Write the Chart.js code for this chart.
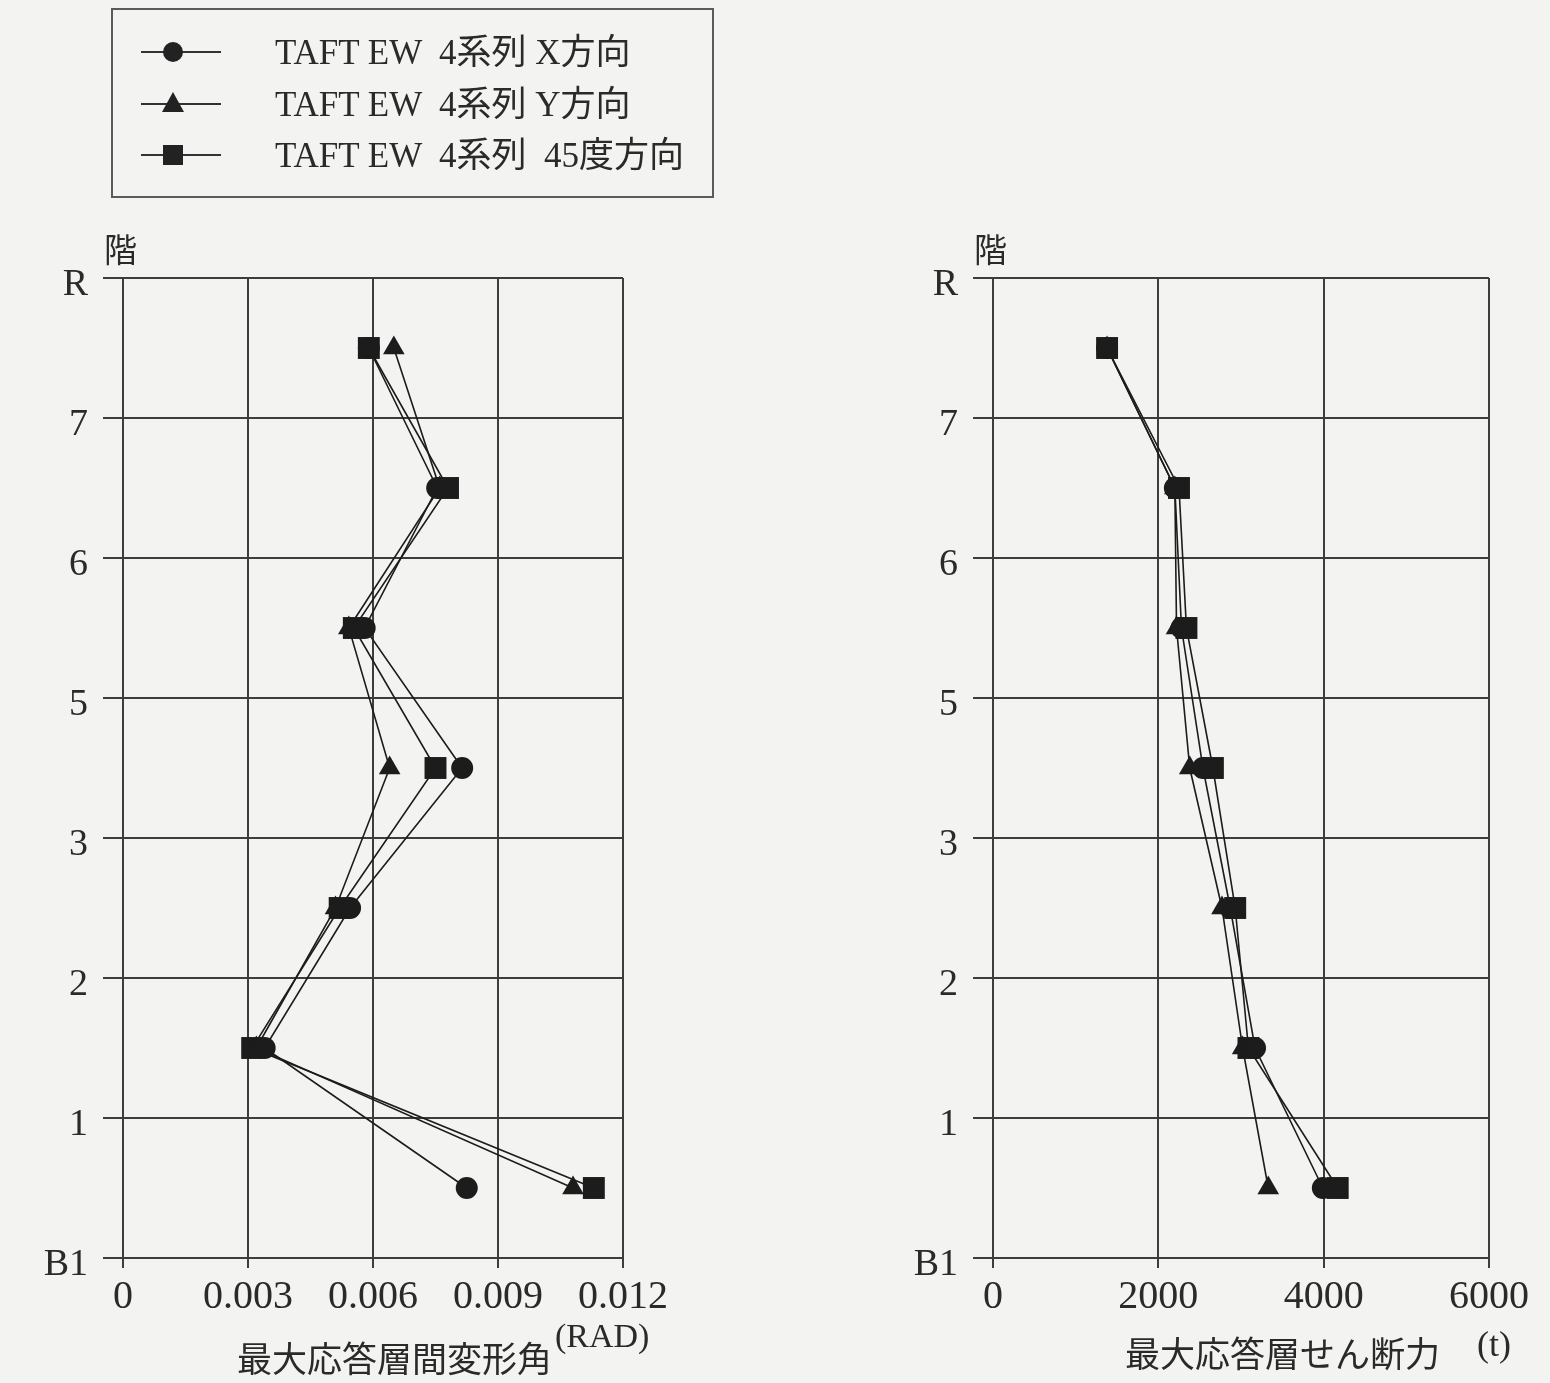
<!DOCTYPE html>
<html>
<head>
<meta charset="utf-8">
<script src="https://cdn.jsdelivr.net/npm/chart.js@4.4.1/dist/chart.umd.min.js"></script>
<style>
  html, body { margin: 0; padding: 0; background: #f3f3f1; }
  body { width: 1550px; height: 1383px; position: relative; overflow: hidden;
         font-family: 'Liberation Serif', 'Noto Sans CJK JP', serif; color: #2a2a2a; }
  canvas { position: absolute; top: 0; }
  #driftChart { left: 0; }
  #shearChart { left: 770px; }
  .lbl { position: absolute; white-space: nowrap; line-height: 1; }
  .legend { position: absolute; left: 111px; top: 8px; width: 599px; height: 186px;
            border: 2px solid #5a5a5a; }
  .row { position: absolute; left: 0; width: 100%; height: 0; }
  .row .line { position: absolute; left: 28px; top: -1px; width: 80px; height: 2px; background: #333; }
  .row .mk { position: absolute; background: #222; }
  .row .mk.circle { left: 50px; top: -10px; width: 20px; height: 20px; border-radius: 50%; }
  .row .mk.rect { left: 50px; top: -10px; width: 20px; height: 20px; }
  .row .mk.tri { left: 49px; top: -12px; width: 0; height: 0; background: none;
                 border-left: 11px solid transparent; border-right: 11px solid transparent;
                 border-bottom: 20px solid #222; }
  .row .txt { position: absolute; left: 162px; top: -17px; font-size: 35px; line-height: 1; white-space: pre; }
</style>
</head>
<body>
<canvas id="driftChart" width="760" height="1383"></canvas>
<canvas id="shearChart" width="780" height="1383"></canvas>

<div class="legend" id="legend"></div>

<div class="lbl" style="left:104px;top:232px;font-size:33px;font-family:'Noto Sans CJK JP';">階</div>
<div class="lbl" style="left:974px;top:232px;font-size:33px;font-family:'Noto Sans CJK JP';">階</div>
<div class="lbl" style="left:237px;top:1339px;font-size:35px;font-family:'Noto Sans CJK JP';">最大応答層間変形角</div>
<div class="lbl" style="left:555px;top:1319px;font-size:34px;">(RAD)</div>
<div class="lbl" style="left:1125px;top:1334px;font-size:35px;font-family:'Noto Sans CJK JP';">最大応答層せん断力</div>
<div class="lbl" style="left:1477px;top:1326px;font-size:36px;">(t)</div>

<script>
// Floor levels on the vertical axis (no floor "4"), bottom to top
const floorLabels = ['B1', '1', '2', '3', '5', '6', '7', 'R'];
// Each story is named by the floor at its base, bottom to top
const storyNames = ['B1', '1', '2', '3', '5', '6', '7'];

const seriesNames = ['TAFT EW  4系列 X方向', 'TAFT EW  4系列 Y方向', 'TAFT EW  4系列  45度方向'];
const seriesMarkers = ['circle', 'triangle', 'rect'];

// Maximum story drift angle (RAD)
const driftX   = [0.00825, 0.0034, 0.00545, 0.00814, 0.0058,  0.00754, 0.0059];
const driftY   = [0.0108,  0.0032, 0.0051,  0.0064,  0.00542, 0.0076,  0.0065];
const drift45  = [0.0113,  0.0031, 0.0052,  0.0075,  0.00554, 0.0078,  0.0059];

// Maximum story shear force (t)
const shearX   = [3990, 3170, 2870, 2540, 2280, 2200, 1380];
const shearY   = [3330, 3020, 2770, 2380, 2220, 2200, 1380];
const shear45  = [4170, 3090, 2930, 2660, 2340, 2250, 1380];

const driftTicks = [0, 0.003, 0.006, 0.009, 0.012];
const driftTickLabels = ['0', '0.003', '0.006', '0.009', '0.012'];
const shearTicks = [0, 2000, 4000, 6000];
const shearTickLabels = ['0', '2000', '4000', '6000'];

const INK = '#1c1c1c';
const GRID = '#3d3d3d';
const SERIF = "'Liberation Serif', 'Noto Sans CJK JP', serif";
const markerRadius = { circle: 11, triangle: 12.5, rect: 15.5 };

function storyPoints(values) {
  return storyNames.map((s, i) => ({ x: values[i], y: floorLabels.indexOf(s) + 0.5 }));
}

function makeDatasets(seriesValues) {
  return seriesValues.map((vals, k) => ({
    label: seriesNames[k],
    data: storyPoints(vals),
    showLine: true,
    borderColor: INK,
    borderWidth: 1.6,
    backgroundColor: INK,
    pointStyle: seriesMarkers[k],
    pointRadius: markerRadius[seriesMarkers[k]],
    pointBorderWidth: 0,
    pointBackgroundColor: INK,
    tension: 0
  }));
}

function makeChart(canvasId, seriesValues, xTicks, xTickLabels, padLeft, padRight) {
  const ctx = document.getElementById(canvasId);
  return new Chart(ctx, {
    type: 'scatter',
    data: { datasets: makeDatasets(seriesValues) },
    options: {
      responsive: false,
      animation: false,
      devicePixelRatio: 1,
      layout: { padding: { top: 278, left: padLeft, right: padRight, bottom: 0 } },
      plugins: { legend: { display: false }, tooltip: { enabled: false } },
      scales: {
        x: {
          type: 'linear',
          min: xTicks[0],
          max: xTicks[xTicks.length - 1],
          afterBuildTicks: s => { s.ticks = xTicks.map(v => ({ value: v })); },
          afterFit: s => { s.height = 125; },
          ticks: {
            callback: (v, i) => xTickLabels[i],
            font: { family: SERIF, size: 40 },
            color: '#2a2a2a',
            padding: 5,
            maxRotation: 0,
            autoSkip: false
          },
          grid: { color: GRID, lineWidth: 2, tickLength: 10, drawTicks: true },
          border: { color: GRID, width: 2 }
        },
        y: {
          type: 'linear',
          min: 0,
          max: floorLabels.length - 1,
          afterBuildTicks: s => { s.ticks = floorLabels.map((_, i) => ({ value: i })); },
          afterFit: s => { s.width = 123; },
          ticks: {
            callback: (v, i) => floorLabels[i],
            font: { family: SERIF, size: 38 },
            color: '#2a2a2a',
            padding: 15,
            labelOffset: 7,
            autoSkip: false
          },
          grid: { color: GRID, lineWidth: 2, tickLength: 20, drawTicks: true },
          border: { color: GRID, width: 2 }
        }
      }
    }
  });
}

makeChart('driftChart', [driftX, driftY, drift45], driftTicks, driftTickLabels, 0, 137);
makeChart('shearChart', [shearX, shearY, shear45], shearTicks, shearTickLabels, 100, 61);

// Legend rows: line with the series marker, then the series name
const legend = document.getElementById('legend');
const rowTops = [42, 94, 145];
const markerClass = { circle: 'circle', triangle: 'tri', rect: 'rect' };
seriesNames.forEach((name, k) => {
  const row = document.createElement('div');
  row.className = 'row';
  row.style.top = rowTops[k] + 'px';
  row.innerHTML = '<div class="line"></div><div class="mk ' + markerClass[seriesMarkers[k]] +
    '"></div><div class="txt"></div>';
  row.querySelector('.txt').textContent = name;
  legend.appendChild(row);
});
</script>
</body>
</html>
